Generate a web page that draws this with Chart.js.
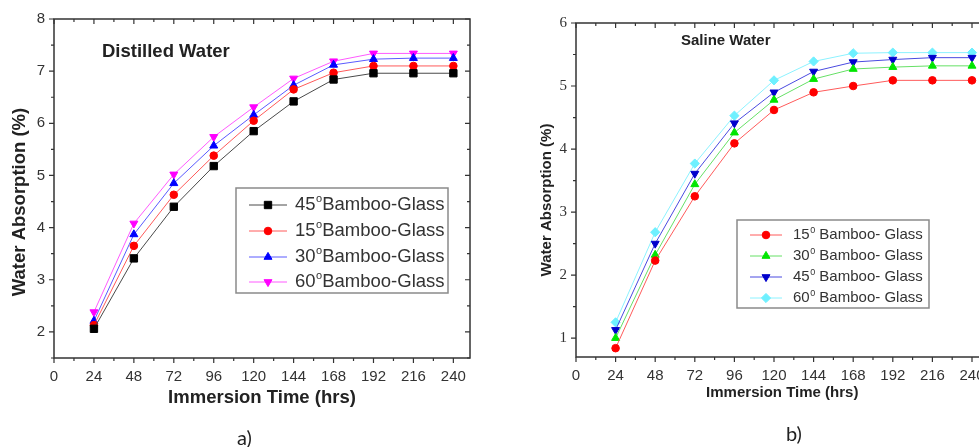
<!DOCTYPE html>
<html>
<head>
<meta charset="utf-8">
<script src="https://cdn.jsdelivr.net/npm/chart.js@4.4.1/dist/chart.umd.min.js"></script>
<style>
  body { margin: 0; width: 979px; height: 447px; overflow: hidden; background: #fff; position: relative; }
  #panelA { position: absolute; left: 0; top: 0; }
  #panelB { position: absolute; left: 490px; top: 0; }
  .tag { position: absolute; font: 20px Lato, "Open Sans", sans-serif; line-height: 20px; color: #222; }
</style>
</head>
<body>
<canvas id="panelA" width="490" height="447"></canvas>
<canvas id="panelB" width="510" height="447"></canvas>
<div class="tag" style="left:237px; top:427px;">a)</div>
<div class="tag" style="left:786px; top:423px;">b)</div>
<script>
// immersion times (hrs) and axis ticks
const hours = [24, 48, 72, 96, 120, 144, 168, 192, 216, 240];
const xTickValues = [0, 24, 48, 72, 96, 120, 144, 168, 192, 216, 240];
const yTicksA = [2, 3, 4, 5, 6, 7, 8];
const yTicksB = [1, 2, 3, 4, 5, 6];

// a) distilled water, water absorption (%)
const distilledAngles = ['45', '15', '30', '60'];
const distilled45 = [2.06, 3.41, 4.40, 5.18, 5.85, 6.42, 6.84, 6.96, 6.96, 6.96];
const distilled15 = [2.13, 3.65, 4.63, 5.38, 6.05, 6.65, 6.97, 7.10, 7.10, 7.10];
const distilled30 = [2.21, 3.87, 4.85, 5.57, 6.16, 6.73, 7.12, 7.23, 7.25, 7.25];
const distilled60 = [2.38, 4.08, 5.02, 5.74, 6.31, 6.86, 7.19, 7.34, 7.34, 7.34];

// b) saline water, water absorption (%)
const salineAngles = ['15', '30', '45', '60'];
const saline15 = [0.84, 2.23, 3.25, 4.09, 4.62, 4.90, 5.00, 5.09, 5.09, 5.09];
const saline30 = [1.00, 2.32, 3.44, 4.26, 4.78, 5.11, 5.27, 5.30, 5.32, 5.32];
const saline45 = [1.13, 2.50, 3.61, 4.41, 4.90, 5.23, 5.38, 5.42, 5.45, 5.45];
const saline60 = [1.25, 2.68, 3.77, 4.53, 5.09, 5.39, 5.52, 5.53, 5.53, 5.53];

const SANS = '"Liberation Sans", Arial, sans-serif';
const SERIF = '"Liberation Serif", "Times New Roman", serif';

function toPoints(values) {
    return hours.map((h, i) => ({ x: h, y: values[i] }));
}

function series(angle, sep, values, color, lineColor, style, radius, rotation) {
    return {
        label: angle + '\u00b0' + sep + 'Bamboo-' + (sep ? ' ' : '') + 'Glass',
        angle: angle,
        data: toPoints(values),
        borderColor: lineColor,
        borderWidth: 1,
        pointStyle: style,
        pointRadius: radius,
        pointRotation: rotation || 0,
        pointBackgroundColor: color,
        pointBorderColor: color,
        pointBorderWidth: 1,
        tension: 0
    };
}

/**
 * Draws the boxed frame with minor/major ticks, the rotated y title,
 * the panel caption and the inset legend.
 */
const framePlugin = {
    id: 'frame',
    afterDraw(chart, args, o) {
        const { ctx, chartArea: a, scales: { x, y } } = chart;
        ctx.save();

        // frame
        ctx.strokeStyle = '#333';
        ctx.lineWidth = 1.5;
        ctx.strokeRect(a.left, a.top, a.right - a.left, a.bottom - a.top);

        // ticks: bottom/left outward, top/right inward
        ctx.lineWidth = 1.2;
        ctx.beginPath();
        for (let k = 0; k * 12 <= x.max; k++) {
            const px = x.getPixelForValue(k * 12);
            const len = k % 2 === 0 ? 5 : 3;
            ctx.moveTo(px, a.bottom); ctx.lineTo(px, a.bottom + len);
            ctx.moveTo(px, a.top); ctx.lineTo(px, a.top + len);
        }
        for (let k = Math.ceil(y.min * 2); k <= y.max * 2 + 1e-6; k++) {
            const py = y.getPixelForValue(k / 2);
            const len = k % 2 === 0 ? 5 : 3;
            ctx.moveTo(a.left, py); ctx.lineTo(a.left - len, py);
            ctx.moveTo(a.right, py); ctx.lineTo(a.right - len, py);
        }
        ctx.stroke();

        // y title
        ctx.fillStyle = '#222';
        ctx.font = 'bold ' + o.yTitle.size + 'px ' + SANS;
        ctx.textAlign = 'center';
        ctx.textBaseline = 'middle';
        ctx.save();
        ctx.translate(o.yTitle.x, o.yTitle.y);
        ctx.rotate(-Math.PI / 2);
        ctx.fillText('Water Absorption (%)', 0, 0);
        ctx.restore();

        // panel caption
        ctx.font = 'bold ' + o.caption.size + 'px ' + SANS;
        ctx.textAlign = 'left';
        ctx.fillText(o.caption.text, o.caption.x, o.caption.y);

        // legend
        const lg = o.legend;
        ctx.strokeStyle = '#8a8a8a';
        ctx.lineWidth = 1.5;
        ctx.strokeRect(lg.x, lg.y, lg.w, lg.h);
        chart.data.datasets.forEach((ds, i) => {
            const cy = lg.rowY[i];
            ctx.strokeStyle = ds.borderColor;
            ctx.lineWidth = 1;
            ctx.beginPath();
            ctx.moveTo(lg.lineX0, cy);
            ctx.lineTo(lg.lineX1, cy);
            ctx.stroke();
            ctx.fillStyle = ds.pointBackgroundColor;
            ctx.strokeStyle = ds.pointBorderColor;
            Chart.helpers.drawPoint(ctx, {
                pointStyle: ds.pointStyle, rotation: ds.pointRotation,
                radius: ds.pointRadius, borderWidth: 1
            }, (lg.lineX0 + lg.lineX1) / 2, cy);

            // "45" + superscript degree mark + rest
            ctx.fillStyle = '#333';
            ctx.textBaseline = 'middle';
            ctx.font = lg.size + 'px ' + SANS;
            let tx = lg.textX;
            ctx.fillText(ds.angle, tx, cy);
            tx += ctx.measureText(ds.angle).width + 0.5;
            ctx.font = Math.round(lg.size * 0.6) + 'px ' + SANS;
            ctx.fillText(lg.sup, tx, cy - lg.size * 0.33);
            tx += ctx.measureText(lg.sup).width;
            ctx.font = lg.size + 'px ' + SANS;
            ctx.fillText(lg.rest, tx, cy);
        });
        ctx.restore();
    }
};

function makeChart(id, datasets, cfg) {
    return new Chart(document.getElementById(id), {
        type: 'line',
        data: { datasets: datasets },
        plugins: [framePlugin],
        options: {
            responsive: false,
            animation: false,
            layout: { padding: cfg.padding },
            scales: {
                x: {
                    type: 'linear', min: 0, max: 250,
                    afterBuildTicks: s => { s.ticks = xTickValues.map(v => ({ value: v })); },
                    afterFit: s => { s.height = cfg.xHeight; },
                    grid: { display: false, drawTicks: true, tickLength: 5 },
                    border: { display: false },
                    ticks: { autoSkip: false, maxRotation: 0, padding: 5, color: '#333', font: { family: SANS, size: 15 } },
                    title: {
                        display: true, text: 'Immersion Time (hrs)', color: '#222',
                        font: { family: SANS, size: cfg.xTitleSize, weight: 'bold' },
                        padding: { top: 0, bottom: cfg.xTitlePad }
                    }
                },
                y: {
                    type: 'linear', min: cfg.yMin, max: cfg.yMax,
                    afterBuildTicks: s => { s.ticks = cfg.yTicks.map(v => ({ value: v })); },
                    afterFit: s => { s.width = cfg.yWidth; },
                    grid: { display: false, drawTicks: true, tickLength: 5 },
                    border: { display: false },
                    ticks: { padding: 4, color: '#333', font: cfg.yFont }
                }
            },
            plugins: {
                legend: { display: false },
                tooltip: { enabled: false },
                frame: cfg.frame
            }
        }
    });
}

makeChart('panelA', [
    series('45', '', distilled45, '#000000', '#4a4a4a', 'rect', 5.2),
    series('15', '', distilled15, '#ff0000', '#ff5a5a', 'circle', 3.8),
    series('30', '', distilled30, '#0000ff', '#5a5aff', 'triangle', 4.6),
    series('60', '', distilled60, '#ff00ff', '#ff5aff', 'triangle', 4.6, 180)
], {
    padding: { top: 19, right: 20, left: 0, bottom: 29 },
    xHeight: 60, yWidth: 54, xTitleSize: 18.5, xTitlePad: 9,
    yMin: 1.5, yMax: 8, yTicks: yTicksA,
    yFont: { family: SANS, size: 15 },
    frame: {
        yTitle: { x: 20, y: 202, size: 18.5 },
        caption: { text: 'Distilled Water', x: 102, y: 52, size: 18.5 },
        legend: {
            x: 236, y: 188, w: 212, h: 105, rowY: [205, 231, 257, 282],
            lineX0: 249, lineX1: 287, textX: 295, size: 18.5, sup: 'o', rest: 'Bamboo-Glass'
        }
    }
});

makeChart('panelB', [
    series('15', ' ', saline15, '#ff0000', '#ff5a5a', 'circle', 3.8),
    series('30', ' ', saline30, '#00e600', '#66e066', 'triangle', 4.6),
    series('45', ' ', saline45, '#0000cc', '#4a4ae0', 'triangle', 4.6, 180),
    series('60', ' ', saline60, '#6ef0ff', '#8cf2ff', 'rectRot', 4.6)
], {
    padding: { top: 23, right: 11.5, left: 0, bottom: 29 },
    xHeight: 61, yWidth: 86, xTitleSize: 15, xTitlePad: 16,
    yMin: 0.7, yMax: 6, yTicks: yTicksB,
    yFont: { family: SERIF, size: 15 },
    frame: {
        yTitle: { x: 57, y: 200, size: 15 },
        caption: { text: 'Saline Water', x: 191, y: 41, size: 15 },
        legend: {
            x: 247, y: 220, w: 192, h: 88, rowY: [235, 256, 277, 298],
            lineX0: 260, lineX1: 292, textX: 303, size: 15, sup: '0', rest: ' Bamboo- Glass'
        }
    }
});
</script>
</body>
</html>
